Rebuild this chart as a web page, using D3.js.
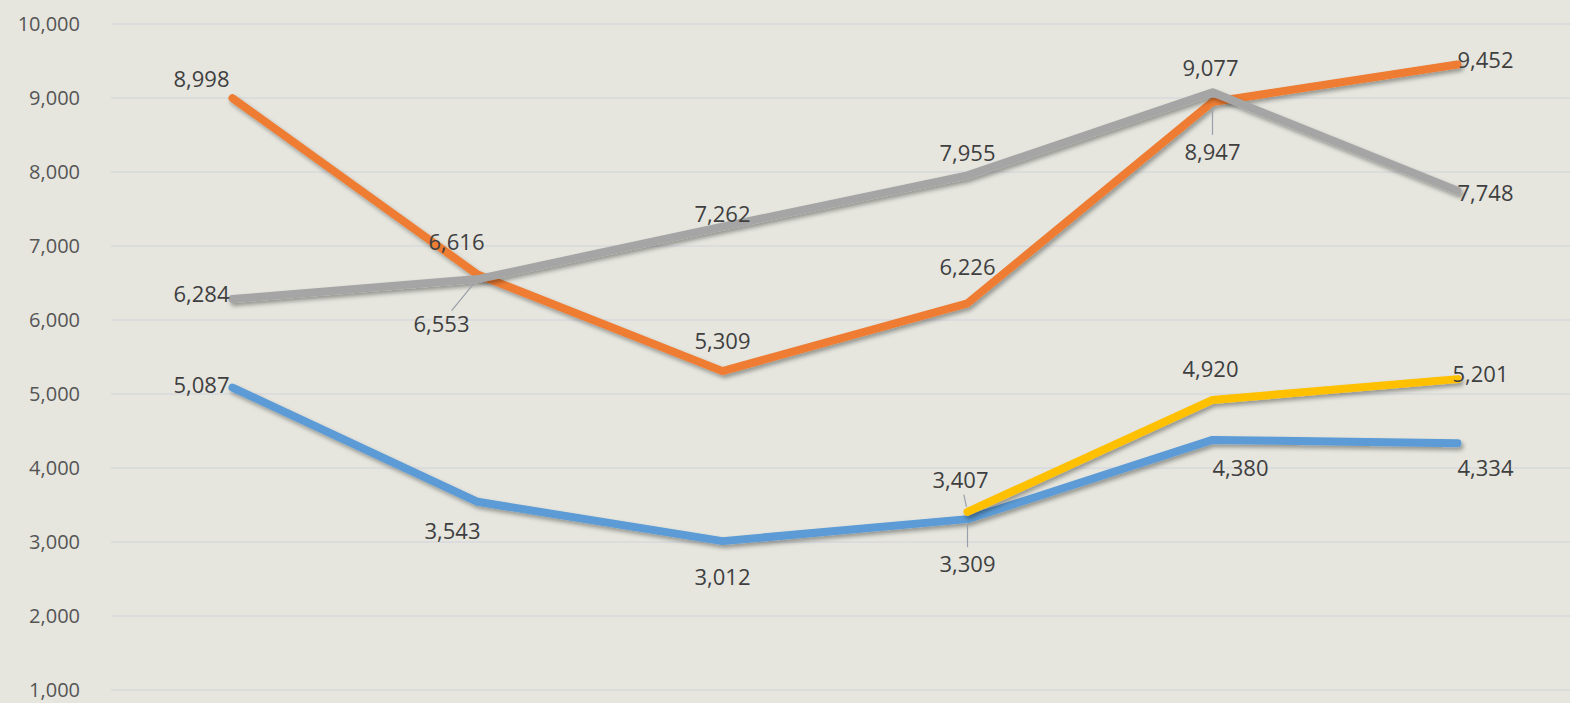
<!DOCTYPE html>
<html>
<head>
<meta charset="utf-8">
<script src="https://cdn.jsdelivr.net/npm/d3@7"></script>
<style>
    html, body { margin: 0; padding: 0; background: #e6e6df; }
    #chart { width: 1570px; height: 703px; overflow: hidden; }
    text { font-family: "Open Sans", "Noto Sans", sans-serif; fill: #3f3f3f; }
</style>
</head>
<body>
<div id="chart"></div>
<script>
// Kategorien (ohne Beschriftung in der Vorlage)
const categories = ["c1", "c2", "c3", "c4", "c5", "c6"];

// Reihenwerte
const blueValues   = [5087, 3543, 3012, 3309, 4380, 4334];
const orangeValues = [8998, 6616, 5309, 6226, 8947, 9452];
const grayValues   = [6284, 6553, 7262, 7955, 9077, 7748];
const yellowValues = [null, null, null, 3407, 4920, 5201];

const yTicks = [1000, 2000, 3000, 4000, 5000, 6000, 7000, 8000, 9000, 10000];

// Beschriftungsversatz je Punkt (Layout, keine Daten)
const blueLabelPos   = [[-31, -4], [-25, 28], [0, 35], [0, 44], [28, 27], [28, 24]];
const orangeLabelPos = [[-31, -20], [-21, -33], [0, -31], [0, -37], [0, 49], [28, -6]];
const grayLabelPos   = [[-31, -6], [-36, 44], [0, -14], [0, -23], [-2, -25], [28, 1]];
const yellowLabelPos = [null, null, null, [-7, -33], [-2, -32], [23, -6]];

const series = [
    { name: "blue",   color: "#5b9bd5", values: blueValues,   labels: blueLabelPos },
    { name: "orange", color: "#ee7b30", values: orangeValues, labels: orangeLabelPos },
    { name: "gray",   color: "#a5a5a5", values: grayValues,   labels: grayLabelPos },
    { name: "yellow", color: "#ffc000", values: yellowValues, labels: yellowLabelPos }
];

// Führungslinien (Reihe, Index)
const leaders = [["gray", 1], ["yellow", 3], ["blue", 3], ["orange", 4]];

const width = 1570;
const height = 703;
const margin = { top: 24, right: -10, bottom: 13, left: 110 };

const svg = d3.select("#chart")
    .append("svg")
    .attr("width", width)
    .attr("height", height);

// Schatten
const filter = svg.append("defs").append("filter")
    .attr("id", "shadow")
    .attr("x", "-5%").attr("y", "-20%")
    .attr("width", "110%").attr("height", "140%");
filter.append("feDropShadow")
    .attr("dx", 2).attr("dy", 3)
    .attr("stdDeviation", 2)
    .attr("flood-color", "#000")
    .attr("flood-opacity", 0.35);

const x = d3.scaleBand()
    .domain(categories)
    .range([margin.left, width - margin.right]);

const y = d3.scaleLinear()
    .domain([1000, 10000])
    .range([height - margin.bottom, margin.top]);

const px = c => x(c) + x.bandwidth() / 2;

// Gitterlinien
svg.append("g")
    .selectAll("line")
    .data(yTicks)
    .join("line")
    .attr("x1", margin.left + 1)
    .attr("x2", width)
    .attr("y1", d => y(d))
    .attr("y2", d => y(d))
    .attr("stroke", "#d6d8de")
    .attr("stroke-width", 1.5);

// Y-Achse
const yAxis = svg.append("g")
    .attr("transform", `translate(${margin.left - 30},0)`)
    .call(d3.axisLeft(y).tickValues(yTicks).tickSize(0).tickFormat(d3.format(",")));
yAxis.select(".domain").remove();
yAxis.selectAll("text")
    .attr("x", 0)
    .style("font-size", "20px")
    .style("fill", "#555")
    .style("font-family", "\"Open Sans\", sans-serif");

// Linien
const line = d3.line()
    .defined(d => d.v !== null)
    .x(d => px(d.c))
    .y(d => y(d.v));

const lineGroup = svg.append("g");
series.forEach(s => {
    const pts = categories.map((c, i) => ({ c, v: s.values[i] }));
    lineGroup.append("path")
        .datum(pts)
        .attr("d", line)
        .attr("fill", "none")
        .attr("stroke", s.color)
        .attr("stroke-width", 8)
        .attr("stroke-linecap", "round")
        .attr("stroke-linejoin", "round")
        .attr("filter", "url(#shadow)");
});

// Führungslinien
const leaderGroup = svg.append("g");
leaders.forEach(([name, i]) => {
    const s = series.find(d => d.name === name);
    const x0 = px(categories[i]);
    const y0 = y(s.values[i]);
    const [dx, dy] = s.labels[i];
    const len = Math.hypot(dx, dy);
    const ux = dx / len, uy = dy / len;
    leaderGroup.append("line")
        .attr("x1", x0 + ux * 5)
        .attr("y1", y0 + uy * 5)
        .attr("x2", x0 + ux * (len - 16))
        .attr("y2", y0 + uy * (len - 16))
        .attr("stroke", "#9aa0aa")
        .attr("stroke-width", 1.2);
});

// Datenbeschriftungen
const labelGroup = svg.append("g");
series.forEach(s => {
    categories.forEach((c, i) => {
        if (s.values[i] === null) return;
        const [dx, dy] = s.labels[i];
        labelGroup.append("text")
            .attr("x", px(c) + dx)
            .attr("y", y(s.values[i]) + dy)
            .attr("text-anchor", "middle")
            .attr("dominant-baseline", "central")
            .style("font-size", "22px")
            .text(d3.format(",")(s.values[i]));
    });
});
</script>
</body>
</html>
